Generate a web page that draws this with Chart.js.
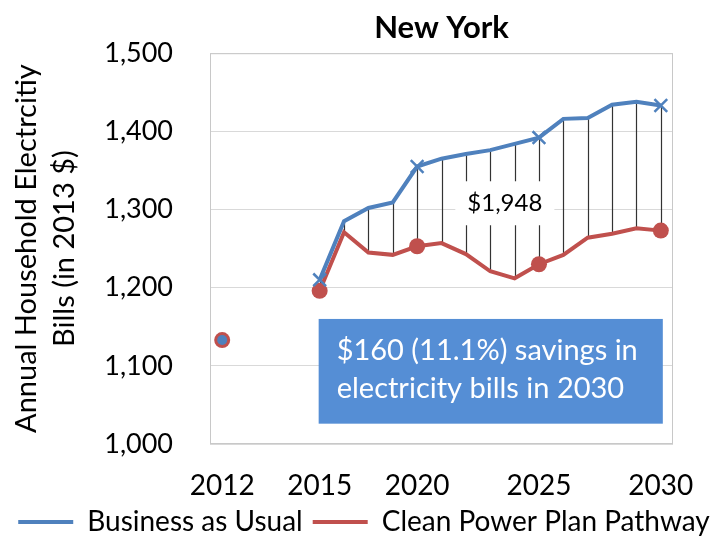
<!DOCTYPE html>
<html>
<head>
<meta charset="utf-8">
<script src="https://cdn.jsdelivr.net/npm/chart.js@4/dist/chart.umd.min.js"></script>
<style>
  html, body { margin: 0; padding: 0; background: #fff; }
  #wrap { width: 720px; height: 538px; }
</style>
</head>
<body>
<div id="wrap"><canvas id="chart" width="720" height="538"></canvas></div>
<script>
// one slot per year 2012..2030, only some labelled (as in the original)
const tickLabels = ['2012', '', '', '', '2015', '', '', '', '2020', '', '', '', '', '2025', '', '', '', '', '2030'];
const businessAsUsual = [1133, null, null, null, 1210, 1285, 1302, 1309, 1355, 1365, 1371, 1376, 1384, 1392, 1416, 1417, 1434, 1438, 1433];
const cleanPowerPlan = [1133, null, null, null, 1196, 1271, 1245, 1242, 1253, 1257, 1243, 1221, 1212, 1230, 1242, 1264, 1269, 1276, 1273];
const markerSlots = [4, 8, 13, 18];

const cumulativeLabel = '$1,948';
const savingsText = ['$160 (11.1%) savings in', 'electricity bills in 2030'];

const FONT = 'Lato, "Open Sans", sans-serif';
const BLUE = '#4F81BD';
const RED = '#C0504D';

// where the annotations sit, in data units
const labelPos = { x: 11.6, y: 1308 };
const boxPos = { x0: 4, x1: 18, yTop: 1160, yBottom: 1026 };

const extras = {
  id: 'extras',
  beforeDatasetsDraw(chart) {
    const { ctx, chartArea: a, scales: { x, y } } = chart;
    ctx.save();
    // plot border
    ctx.strokeStyle = '#C8C8C8';
    ctx.lineWidth = 1;
    ctx.strokeRect(a.left + 0.5, a.top + 0.5, a.right - a.left - 1, a.bottom - a.top - 1);
    // drop lines between the two pathways
    ctx.strokeStyle = '#333';
    ctx.lineWidth = 1.2;
    for (let i = 4; i < businessAsUsual.length; i++) {
      const px = Math.round(x.getPixelForValue(i)) + 0.5;
      ctx.beginPath();
      ctx.moveTo(px, y.getPixelForValue(businessAsUsual[i]));
      ctx.lineTo(px, y.getPixelForValue(cleanPowerPlan[i]));
      ctx.stroke();
    }
    // cumulative savings label
    const step = x.getPixelForValue(1) - x.getPixelForValue(0);
    const lx = x.getPixelForValue(Math.floor(labelPos.x)) + (labelPos.x % 1) * step;
    const ly = y.getPixelForValue(labelPos.y);
    ctx.font = '24px ' + FONT;
    const w = ctx.measureText(cumulativeLabel).width + 24;
    ctx.fillStyle = '#fff';
    ctx.fillRect(lx - w / 2, ly - 22, w, 44);
    ctx.fillStyle = '#000';
    ctx.textAlign = 'center';
    ctx.textBaseline = 'middle';
    ctx.fillText(cumulativeLabel, lx, ly);
    // savings box
    const bx0 = x.getPixelForValue(boxPos.x0) - 1;
    const bx1 = x.getPixelForValue(boxPos.x1) + 2;
    const by0 = y.getPixelForValue(boxPos.yTop);
    const by1 = y.getPixelForValue(boxPos.yBottom);
    ctx.fillStyle = '#558ED5';
    ctx.fillRect(bx0, by0, bx1 - bx0, by1 - by0);
    ctx.fillStyle = '#fff';
    ctx.font = '29px ' + FONT;
    ctx.textAlign = 'left';
    savingsText.forEach((t, k) => ctx.fillText(t, bx0 + 18, by0 + 32 + k * 38));
    ctx.restore();
  }
};

new Chart(document.getElementById('chart'), {
  type: 'line',
  data: {
    labels: tickLabels,
    datasets: [
      {
        label: 'Business as Usual',
        data: businessAsUsual,
        borderColor: BLUE,
        backgroundColor: BLUE,
        borderWidth: 4,
        tension: 0,
        spanGaps: false,
        pointStyle: c => c.dataIndex === 0 ? 'circle' : 'crossRot',
        pointRadius: c => c.dataIndex === 0 ? 5 : (markerSlots.includes(c.dataIndex) ? 9 : 0),
        pointBorderWidth: c => c.dataIndex === 0 ? 0 : 2.5,
        pointBorderColor: BLUE,
        pointBackgroundColor: BLUE
      },
      {
        label: 'Clean Power Plan Pathway',
        data: cleanPowerPlan,
        borderColor: RED,
        backgroundColor: RED,
        borderWidth: 4,
        tension: 0,
        spanGaps: false,
        pointStyle: 'circle',
        pointRadius: c => (c.dataIndex === 0 || markerSlots.includes(c.dataIndex)) ? 8 : 0,
        pointBorderWidth: 0,
        pointBackgroundColor: RED
      }
    ]
  },
  options: {
    responsive: false,
    animation: false,
    layout: { padding: { left: 8, right: 0, top: 0, bottom: -8 } },
    plugins: {
      tooltip: { enabled: false },
      title: {
        display: true,
        text: 'New York',
        fullSize: false,
        color: '#000',
        font: { family: FONT, size: 31, weight: 'bold' },
        padding: { top: 3, bottom: 7 }
      },
      legend: {
        position: 'bottom',
        labels: {
          usePointStyle: true,
          pointStyle: 'line',
          pointStyleWidth: 55,
          color: '#000',
          font: { family: FONT, size: 28 },
          padding: 10,
          generateLabels: chart => Chart.defaults.plugins.legend.labels.generateLabels(chart).map(l => ({
            ...l,
            pointStyle: 'line',
            lineWidth: 4,
            strokeStyle: chart.data.datasets[l.datasetIndex].borderColor
          }))
        }
      }
    },
    scales: {
      x: {
        offset: true,
        grid: { display: false, drawTicks: false },
        border: { display: false },
        ticks: {
          autoSkip: false,
          maxRotation: 0,
          color: '#000',
          padding: 25,
          font: { family: FONT, size: 28 }
        },
        afterFit: s => { s.height = 54; }
      },
      y: {
        min: 1000,
        max: 1500,
        grid: { color: '#D9D9D9', drawTicks: false },
        border: { display: false },
        ticks: {
          stepSize: 100,
          color: '#000',
          padding: 37,
          font: { family: FONT, size: 27 },
          callback: v => v.toLocaleString('en-US')
        },
        title: {
          display: true,
          text: ['Annual Household Electrcitiy', 'Bills (in 2013 $)'],
          color: '#000',
          font: { family: FONT, size: 29, lineHeight: 1.3 },
          padding: 0
        },
        afterFit: s => { s.width = 202; }
      },
      // empty right-hand strip that keeps the plot off the right edge
      yRight: {
        position: 'right',
        grid: { display: false, drawTicks: false },
        border: { display: false },
        ticks: { display: false },
        afterFit: s => { s.width = 47; }
      }
    }
  },
  plugins: [extras]
});
</script>
</body>
</html>
